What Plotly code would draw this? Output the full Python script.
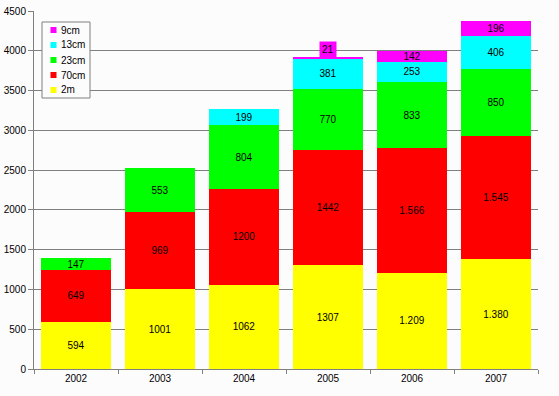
import plotly.graph_objects as go

years = ["2002", "2003", "2004", "2005", "2006", "2007"]
v_2m = [594, 1001, 1062, 1307, 1209, 1380]
t_2m = ["594", "1001", "1062", "1307", "1.209", "1.380"]
v_70cm = [649, 969, 1200, 1442, 1566, 1545]
t_70cm = ["649", "969", "1200", "1442", "1.566", "1.545"]
v_23cm = [147, 553, 804, 770, 833, 850]
t_23cm = ["147", "553", "804", "770", "833", "850"]
v_13cm = [0, 0, 199, 381, 253, 406]
t_13cm = ["", "", "199", "381", "253", "406"]
v_9cm = [0, 0, 0, 21, 142, 196]
t_9cm = ["", "", "", "", "142", "196"]

series = [
    ("2m", v_2m, t_2m, "#ffff00"),
    ("70cm", v_70cm, t_70cm, "#ff0000"),
    ("23cm", v_23cm, t_23cm, "#00ff00"),
    ("13cm", v_13cm, t_13cm, "#00ffff"),
    ("9cm", v_9cm, t_9cm, "#ff00ff"),
]

W, H = 559, 396
ML, MR, MT, MB = 34, 21, 11, 27
PW, PH = W - ML - MR, H - MT - MB


def px(xp):
    return (xp - ML) / PW


def py(yp):
    return (H - MB - yp) / PH


FONT = "Liberation Sans, Arial, sans-serif"
fig = go.Figure()
for name, vals, txt, col in series:
    fig.add_trace(go.Bar(
        x=years, y=vals, name=name, text=txt,
        marker=dict(color=col, line=dict(width=0)),
        textposition="inside", insidetextanchor="middle",
        textangle=0, constraintext="none",
        textfont=dict(color="black", size=10, family=FONT),
    ))

# small 9cm value in 2005 labelled above its thin segment
i05 = years.index("2005")
tot2005 = v_2m[i05] + v_70cm[i05] + v_23cm[i05] + v_13cm[i05] + v_9cm[i05]
fig.add_annotation(x=i05, y=tot2005, xref="x", yref="y", text="21", showarrow=False,
                   yanchor="bottom", bgcolor="#ff00ff", borderpad=2,
                   font=dict(color="black", size=10, family=FONT), yshift=-1)

# compact legend box (reversed order, like the reference)
fig.add_shape(type="rect", xref="paper", yref="paper",
              x0=px(42), x1=px(90), y0=py(98), y1=py(22),
              line=dict(color="#808080", width=1), fillcolor="#fdfcfd", layer="above")
for k, (name, _, _, col) in enumerate(reversed(series)):
    yc = 30 + 15 * k
    fig.add_shape(type="rect", xref="paper", yref="paper",
                  x0=px(50.5), x1=px(56.5), y0=py(yc + 3), y1=py(yc - 3),
                  line=dict(width=0), fillcolor=col, layer="above")
    fig.add_annotation(xref="paper", yref="paper", x=px(58.5), y=py(yc),
                       xanchor="left", yanchor="middle", showarrow=False, text=name,
                       font=dict(color="black", size=10, family=FONT))

fig.update_layout(
    barmode="stack", bargap=0.167,
    width=W, height=H,
    margin=dict(l=ML, r=MR, t=MT, b=MB, autoexpand=False),
    paper_bgcolor="#fdfcfd", plot_bgcolor="#fdfcfd",
    font=dict(family=FONT, size=10, color="black"),
    showlegend=False,
    uniformtext=dict(minsize=10, mode="show"),
    xaxis=dict(type="category", categoryorder="array", categoryarray=years,
               range=[-0.5, len(years) - 0.5], automargin=False,
               showline=True, linecolor="#808080", ticks="outside", tickson="boundaries",
               tickcolor="#808080", ticklen=4, tickfont=dict(size=10)),
    yaxis=dict(range=[0, 4500], dtick=500, showline=True, linecolor="#808080",
               automargin=False,
               gridcolor="#808080", gridwidth=1, ticks="outside", tickcolor="#808080",
               ticklen=5, tickfont=dict(size=10), zeroline=False),
)
fig.write_html("out.html", config={"displayModeBar": False},
               post_script="document.body.style.margin='0';")
